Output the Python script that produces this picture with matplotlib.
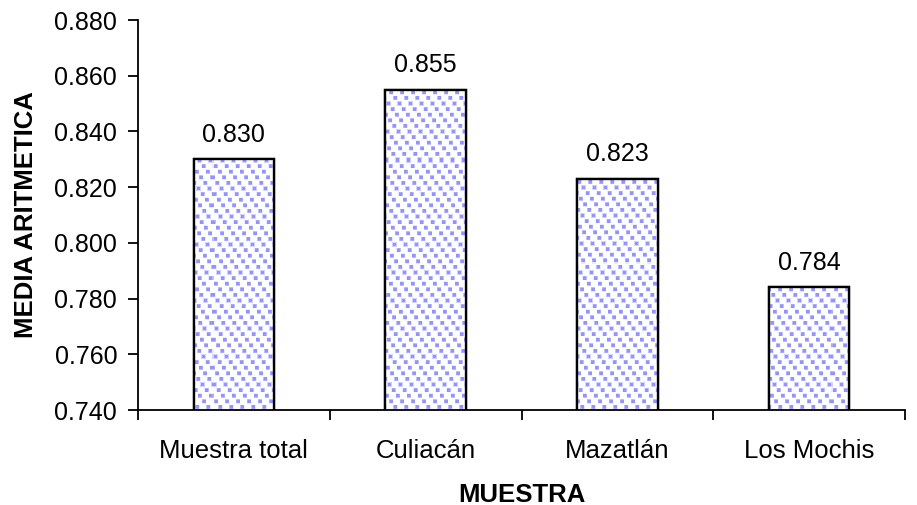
import matplotlib
matplotlib.use("Agg")
import matplotlib.pyplot as plt
import numpy as np

categories = ["Muestra total", "Culiacán", "Mazatlán", "Los Mochis"]
values = [0.830, 0.855, 0.823, 0.784]
yticks = [0.740, 0.760, 0.780, 0.800, 0.820, 0.840, 0.860, 0.880]

plt.rcParams["font.family"] = ["Liberation Sans", "DejaVu Sans"]

FIG_W, FIG_H, DPI = 917, 505, 100
AX_L, AX_R, AX_T, AX_B = 138, 905, 20, 410

fig = plt.figure(figsize=(FIG_W / DPI, FIG_H / DPI), dpi=DPI)
ax = fig.add_axes([AX_L / FIG_W, 1 - AX_B / FIG_H,
                   (AX_R - AX_L) / FIG_W, (AX_B - AX_T) / FIG_H])

ax.set_ylim(0.740, 0.880)
ax.set_xlim(-0.5, len(categories) - 0.5)


def dotted_texture(w, h, dot_rgb=(0.54, 0.54, 1.0)):
    """Staggered grid of soft square dots, one texel per screen pixel."""
    yy, xx = np.mgrid[0:h, 0:w].astype(float)
    row_step, col_step, shear = 5.6, 11.0, 4.2
    s = yy / row_step
    r = np.round(s)
    t = (xx - shear * r) / col_step
    dy = (s - r) * row_step
    dx = (t - np.round(t)) * col_step
    d = np.maximum(np.abs(dx), np.abs(dy))
    a = np.clip(2.4 - d, 0, 1) * 0.92
    a = a[..., None]
    white = np.ones(3)
    return white * (1 - a) + np.array(dot_rgb) * a


tex = dotted_texture(AX_R - AX_L, AX_B - AX_T)

x = np.arange(len(categories))
bar_w = 0.42
bars = ax.bar(x, values, width=bar_w, color="white", edgecolor="black",
              linewidth=1.6, zorder=2)
xl, yl = ax.get_xlim(), ax.get_ylim()
for b in bars:
    im = ax.imshow(tex, extent=(xl[0], xl[1], yl[0], yl[1]), aspect="auto",
                   interpolation="nearest", origin="upper", zorder=2.5)
    im.set_clip_path(b)
# outlines above the texture
ax.bar(x, values, width=bar_w, fill=False, edgecolor="black",
       linewidth=1.7, zorder=3)
ax.set_xlim(xl)
ax.set_ylim(yl)

ax.set_yticks(yticks)
ax.set_yticklabels([f"{v:.3f}" for v in yticks], fontsize=18)
ax.set_xticks(x)
ax.set_xticklabels(categories, fontsize=18.5)
ax.tick_params(axis="x", length=0, pad=21)
ax.set_xticks(np.arange(len(categories) + 1) - 0.5, minor=True)
ax.tick_params(axis="x", which="minor", length=7, width=1.3, direction="out")
ax.tick_params(axis="y", length=7, width=1.3, direction="out", pad=8)

for s in ["top", "right"]:
    ax.spines[s].set_visible(False)
for s in ["left", "bottom"]:
    ax.spines[s].set_linewidth(1.3)

for b, v in zip(bars, values):
    ax.annotate(f"{v:.3f}", (b.get_x() + b.get_width() / 2, v),
                xytext=(0, 9), textcoords="offset points",
                ha="center", va="bottom", fontsize=18)

ax.set_xlabel("MUESTRA", fontsize=18.5, fontweight="bold", labelpad=14)
ax.set_ylabel("MEDIA ARITMETICA", fontsize=18.5, fontweight="bold", labelpad=12)

fig.savefig("out.png", dpi=DPI)
